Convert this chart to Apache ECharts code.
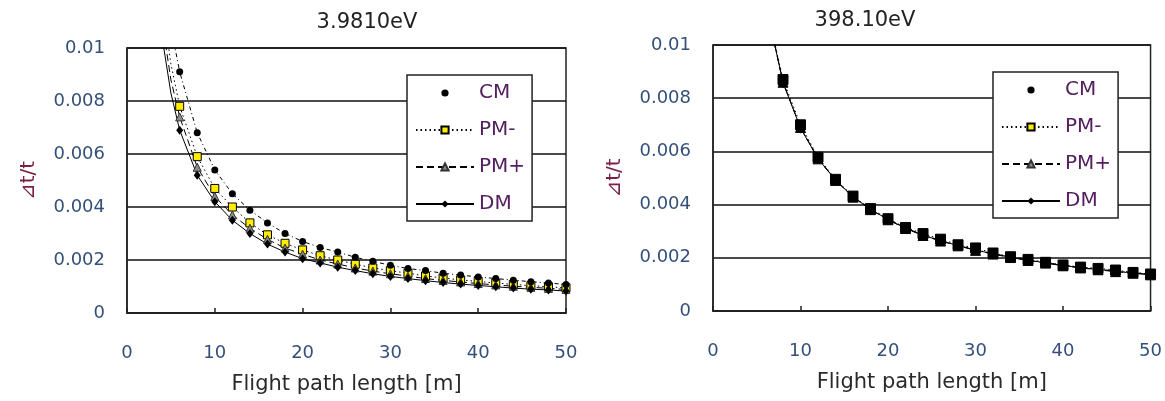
<!DOCTYPE html>
<html>
<head>
<meta charset="utf-8">
<script src="https://cdn.jsdelivr.net/npm/echarts@6/dist/echarts.min.js"></script>
<style>
  html, body { margin: 0; padding: 0; background: #fff; }
  #chart { width: 1165px; height: 401px; }
</style>
</head>
<body>
<div id="chart"></div>
<script>
// panel titles
var titles = ['3.9810eV', '398.10eV'];
var seriesNames = ['CM', 'PM-', 'PM+', 'DM'];

// left panel (3.9810eV): markers every 2 m from 6 to 50
var leftX = [6, 8, 10, 12, 14, 16, 18, 20, 22, 24, 26, 28, 30, 32, 34, 36, 38, 40, 42, 44, 46, 48, 50];
var leftCM  = [0.0091, 0.0068, 0.0054, 0.0045, 0.00388, 0.0034, 0.0030, 0.0027, 0.00247, 0.0023, 0.0021, 0.00195, 0.0018, 0.00168, 0.0016, 0.0015, 0.00143, 0.00136, 0.0013, 0.00124, 0.00118, 0.00113, 0.00108];
var leftPMm = [0.0078, 0.0059, 0.0047, 0.0040, 0.0034, 0.00295, 0.00263, 0.00238, 0.00216, 0.0020, 0.00184, 0.0017, 0.0016, 0.0015, 0.0014, 0.00132, 0.00125, 0.00119, 0.00113, 0.00108, 0.00103, 0.00099, 0.00095];
var leftPMp = [0.0074, 0.0055, 0.0044, 0.0037, 0.0032, 0.00278, 0.00245, 0.00222, 0.0020, 0.00185, 0.0017, 0.00158, 0.00148, 0.00139, 0.0013, 0.00123, 0.00117, 0.00111, 0.00106, 0.00101, 0.00097, 0.00093, 0.00089];
var leftDM  = [0.0069, 0.0052, 0.0042, 0.0035, 0.0030, 0.0026, 0.0023, 0.00205, 0.00189, 0.00173, 0.0016, 0.00148, 0.00138, 0.0013, 0.00122, 0.00115, 0.00109, 0.00104, 0.00099, 0.00094, 0.0009, 0.00087, 0.00083];
// curve points above the top of the plot (no marker)
var leftHeadX = [4, 5];
var leftHeadCM  = [0.0135, 0.0108];
var leftHeadPMm = [0.0118, 0.0094];
var leftHeadPMp = [0.0110, 0.0088];
var leftHeadDM  = [0.0104, 0.0083];

// right panel (398.10eV): markers every 2 m from 8 to 50
var rightX = [8, 10, 12, 14, 16, 18, 20, 22, 24, 26, 28, 30, 32, 34, 36, 38, 40, 42, 44, 46, 48, 50];
var rightCM  = [0.0086, 0.0069, 0.00575, 0.00493, 0.0043, 0.00383, 0.00345, 0.00312, 0.00286, 0.00265, 0.00247, 0.0023, 0.00216, 0.00203, 0.00192, 0.00182, 0.00172, 0.00164, 0.00157, 0.0015, 0.00144, 0.00138];
var rightPMm = [0.0087, 0.0070, 0.00578, 0.00495, 0.00432, 0.00385, 0.00347, 0.00314, 0.00291, 0.0027, 0.00249, 0.00237, 0.00218, 0.00204, 0.00194, 0.00183, 0.00173, 0.00165, 0.0016, 0.00154, 0.00145, 0.00139];
var rightPMp = [0.0086, 0.0069, 0.00572, 0.00491, 0.00428, 0.00381, 0.00343, 0.0031, 0.00284, 0.00263, 0.00245, 0.00228, 0.00214, 0.00201, 0.0019, 0.0018, 0.0017, 0.00162, 0.00155, 0.00148, 0.00142, 0.00136];
var rightDM  = [0.00858, 0.00688, 0.00573, 0.00492, 0.00429, 0.00382, 0.00344, 0.00311, 0.00285, 0.00264, 0.00246, 0.00229, 0.00215, 0.00202, 0.00191, 0.00181, 0.00171, 0.00163, 0.00156, 0.00149, 0.00143, 0.00137];
var rightHeadX = [6];
var rightHeadAll = [0.0116];

var yTicks = [0, 0.002, 0.004, 0.006, 0.008, 0.01];
var yTickLabels = ['0', '0.002', '0.004', '0.006', '0.008', '0.01'];

var font = 'DejaVu Sans';

function build(headX, headY, xs, ys) {
	var out = [];
	for (var i = 0; i < headX.length; i++) {
		out.push({ value: [headX[i], headY[i]], symbol: 'none' });
	}
	for (var j = 0; j < xs.length; j++) {
		out.push([xs[j], ys[j]]);
	}
	return out;
}

// marker + line look of each series
var looks = {
	'CM':  { symbol: 'circle',   size: 7, fill: '#000', border: '#000', line: [4, 3, 1, 3] },
	'PM-': { symbol: 'rect',     size: 8, fill: '#ffee00', border: '#000', line: [1.5, 3] },
	'PM+': { symbol: 'triangle', size: 8, fill: '#8c8c8c', border: '#333', line: [7, 4] },
	'DM':  { symbol: 'diamond',  size: 8, fill: '#000', border: '#000', line: 'solid' }
};

// right panel: the four marker sets sit on top of each other and read as black squares
function mkSeries(name, idx, data, packed) {
	var lk = looks[name];
	var size = lk.size + (packed ? 2 : 0);
	var fill = packed ? '#000' : lk.fill;
	return {
		name: name,
		type: 'line',
		xAxisIndex: idx,
		yAxisIndex: idx,
		data: data,
		symbol: lk.symbol,
		symbolSize: name === 'DM' ? [size - 1, size + 1] : size,
		showAllSymbol: true,
		clip: true,
		animation: false,
		lineStyle: { color: '#000', width: 1, type: lk.line },
		itemStyle: { color: fill, borderColor: packed ? '#000' : lk.border, borderWidth: name === 'PM-' || name === 'PM+' ? 1 : 0 },
		emphasis: { disabled: true }
	};
}

function legendFor(left, top) {
	return {
		orient: 'vertical',
		left: left,
		top: top,
		padding: [8, 7, 7, 8],
		itemGap: 17,
		itemWidth: 58,
		itemHeight: 9,
		backgroundColor: '#fff',
		borderColor: '#222',
		borderWidth: 1.5,
		borderRadius: 0,
		selectedMode: false,
		textStyle: { fontFamily: font, fontSize: 20, color: '#55205f' },
		data: [
			{ name: 'CM', lineStyle: { opacity: 0 } },
			{ name: 'PM-' },
			{ name: 'PM+' },
			{ name: 'DM' }
		]
	};
}

function xAxisFor(idx) {
	return {
		type: 'value',
		gridIndex: idx,
		min: 0, max: 50, interval: 10,
		name: 'Flight path length [m]',
		nameLocation: 'middle',
		nameGap: 61,
		nameTextStyle: { fontFamily: font, fontSize: 21, color: '#2a2a2a' },
		axisLine: { show: true, lineStyle: { color: '#222', width: 1.5 } },
		axisTick: { show: true, inside: true, length: 5, lineStyle: { color: '#222', width: 1.5 } },
		axisLabel: { fontFamily: font, fontSize: 18, color: '#34507a', margin: 31 },
		splitLine: { show: false }
	};
}

function yAxisFor(idx) {
	return {
		type: 'value',
		gridIndex: idx,
		min: 0, max: 0.01, interval: 0.002,
		name: '\u22BFt/t',
		nameLocation: 'middle',
		nameGap: 88,
		nameTextStyle: { fontFamily: font, fontSize: 20, color: '#7a1f45' },
		axisLine: { show: true, lineStyle: { color: '#222', width: 1.5 } },
		axisTick: { show: false },
		axisLabel: {
			fontFamily: font, fontSize: 18, color: '#34507a', margin: 22,
			formatter: function (v) {
				var k = Math.round(v / 0.002);
				return yTickLabels[k];
			}
		},
		splitLine: { show: true, lineStyle: { color: '#111', width: 1.5 } }
	};
}

var chart = echarts.init(document.getElementById('chart'), null, { renderer: 'canvas' });

var option = {
	backgroundColor: '#fff',
	animation: false,
	title: [
		{ text: titles[0], left: 362, top: 7, textAlign: 'center', textStyle: { fontFamily: font, fontSize: 21, fontWeight: 'normal', color: '#222' } },
		{ text: titles[1], left: 860, top: 5, textAlign: 'center', textStyle: { fontFamily: font, fontSize: 21, fontWeight: 'normal', color: '#222' } }
	],
	legend: [legendFor(407, 75), legendFor(993, 72)],
	grid: [
		{ left: 127, top: 48, width: 439, height: 265, show: true, borderColor: '#222', borderWidth: 1.5, backgroundColor: '#fff' },
		{ left: 713, top: 45, width: 440, height: 266, show: true, borderColor: '#222', borderWidth: 1.5, backgroundColor: '#fff' }
	],
	xAxis: [xAxisFor(0), xAxisFor(1)],
	yAxis: [yAxisFor(0), yAxisFor(1)],
	series: [
		mkSeries('PM-', 0, build(leftHeadX, leftHeadPMm, leftX, leftPMm)),
		mkSeries('PM+', 0, build(leftHeadX, leftHeadPMp, leftX, leftPMp)),
		mkSeries('CM', 0, build(leftHeadX, leftHeadCM, leftX, leftCM)),
		mkSeries('DM', 0, build(leftHeadX, leftHeadDM, leftX, leftDM)),
		mkSeries('PM-', 1, build(rightHeadX, rightHeadAll, rightX, rightPMm), true),
		mkSeries('PM+', 1, build(rightHeadX, rightHeadAll, rightX, rightPMp), true),
		mkSeries('CM', 1, build(rightHeadX, rightHeadAll, rightX, rightCM), true),
		mkSeries('DM', 1, build(rightHeadX, rightHeadAll, rightX, rightDM), true)
	]
};

chart.setOption(option);
</script>
</body>
</html>
